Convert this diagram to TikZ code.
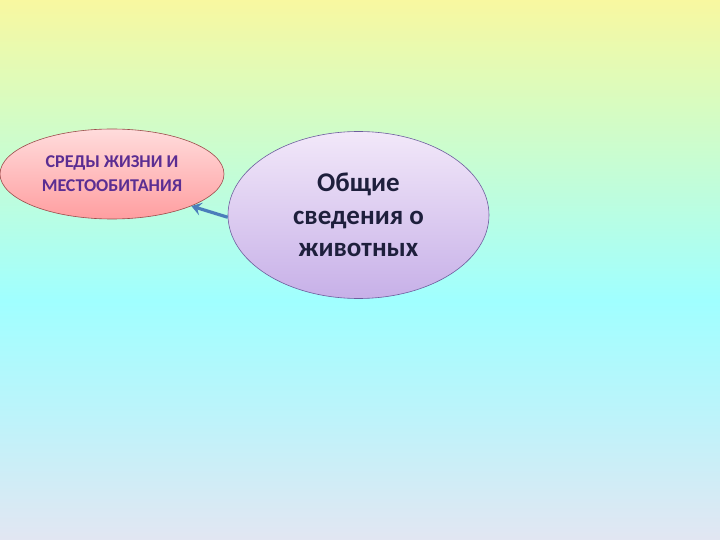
\documentclass[tikz,border=0pt]{standalone}
\usepackage{fontspec}
\setmainfont{Carlito}
\usetikzlibrary{shapes.geometric,arrows.meta}
\definecolor{bgA}{HTML}{F8F8A0}
\definecolor{bgB}{HTML}{D6FCC2}
\definecolor{bgC}{HTML}{A0FFFF}
\definecolor{bgD}{HTML}{BEF3FA}
\definecolor{bgE}{HTML}{E2E6F2}
\definecolor{pinkTop}{HTML}{FFDCDC}
\definecolor{pinkBot}{HTML}{FF9EA0}
\definecolor{pinkLine}{HTML}{9C4B4B}
\definecolor{lavTop}{HTML}{F2E8F9}
\definecolor{lavBot}{HTML}{C7B0E8}
\definecolor{lavLine}{HTML}{6E5E9E}
\definecolor{purpleText}{HTML}{5B2D92}
\definecolor{navyText}{HTML}{1E1F3C}
\definecolor{arrowBlue}{HTML}{4A7EBB}
\pgfdeclareverticalshading{bgshade}{100bp}{color(0bp)=(bgE); color(25bp)=(bgE); color(36.1bp)=(bgD); color(47.2bp)=(bgC); color(64.8bp)=(bgB); color(75bp)=(bgA); color(100bp)=(bgA)}
\tikzset{
  topic/.style={ellipse, draw=pinkLine, line width=0.6pt, top color=pinkTop, bottom color=pinkBot,
    minimum width=224pt, minimum height=90pt, inner sep=0pt, align=center,
    font=\bfseries\fontsize{18}{24}\selectfont, text=purpleText},
  centre/.style={ellipse, draw=lavLine, line width=0.6pt, top color=lavTop, bottom color=lavBot,
    minimum width=261pt, minimum height=167pt, inner sep=0pt, align=center,
    font=\bfseries\fontsize{27}{32.5}\selectfont, text=navyText},
  link/.style={draw=arrowBlue, line width=3.2pt, -{Stealth[length=10pt,width=13pt,inset=4pt]}}
}
\begin{document}
\begin{tikzpicture}[x=1pt,y=-1pt]
\useasboundingbox (0,0) rectangle (720,540);
\shade[shading=bgshade] (0,0) rectangle (720,540);
\node[topic] (env) at (112,174) {СРЕДЫ ЖИЗНИ И\\МЕСТООБИТАНИЯ};
\node[centre] (gen) at (358.5,215) {Общие\\сведения о\\животных};
\draw[link] (gen.181) -- (env.-22);
\end{tikzpicture}
\end{document}
